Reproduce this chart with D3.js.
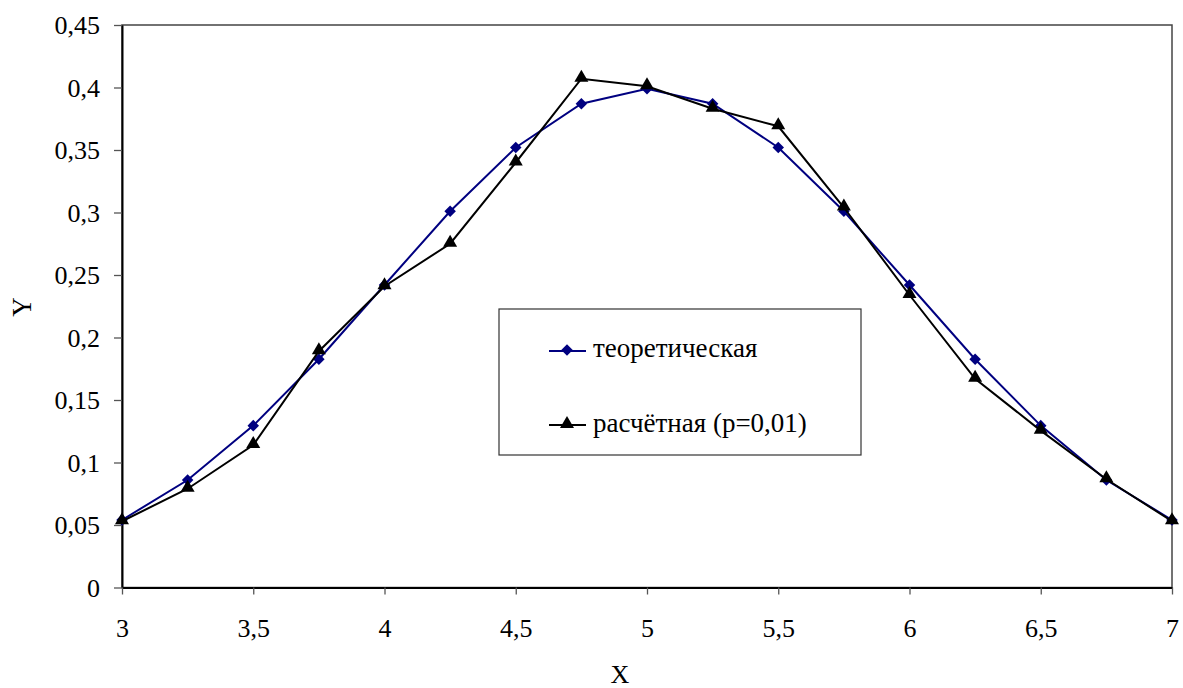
<!DOCTYPE html>
<html>
<head>
<meta charset="utf-8">
<script src="https://cdn.jsdelivr.net/npm/d3@7"></script>
<style>
  body { margin: 0; background: #fff; }
</style>
</head>
<body>
<div id="chart"></div>
<script>
// data
var xs = [3, 3.25, 3.5, 3.75, 4, 4.25, 4.5, 4.75, 5, 5.25, 5.5, 5.75, 6, 6.25, 6.5, 6.75, 7]
var theoretical = [0.054, 0.086, 0.1295, 0.1826, 0.242, 0.301, 0.352, 0.387, 0.399, 0.387, 0.352, 0.301, 0.242, 0.1826, 0.1295, 0.086, 0.054]
var computed = [0.053, 0.079, 0.114, 0.189, 0.241, 0.275, 0.340, 0.407, 0.401, 0.383, 0.369, 0.304, 0.234, 0.167, 0.1255, 0.0866, 0.053]
var seriesNames = ["теоретическая", "расчётная (p=0,01)"]
var xTicks = [3, 3.5, 4, 4.5, 5, 5.5, 6, 6.5, 7]
var yTicks = [0, 0.05, 0.1, 0.15, 0.2, 0.25, 0.3, 0.35, 0.4, 0.45]

var FONT = "'Liberation Serif', 'Times New Roman', serif"

function fmt(v) { return String(+v.toFixed(2)).replace(".", ",") }

var width = 1183, height = 688
var margins = {top: 25, right: 11, bottom: 100.5, left: 122}
var inner_width = width - margins.left - margins.right
var inner_height = height - margins.top - margins.bottom

var svg = d3.select("#chart").append("svg")
            .attr("width", width)
            .attr("height", height)

var g = svg.append("g")
           .attr("transform", "translate(" + margins.left + "," + margins.top + ")")

var scalex = d3.scaleLinear().domain([3, 7]).range([0, inner_width])
var scaley = d3.scaleLinear().domain([0, 0.45]).range([inner_height, 0])

// plot frame (top/right thin)
g.append("rect")
  .attr("x", 0).attr("y", 0)
  .attr("width", inner_width).attr("height", inner_height)
  .attr("fill", "none").attr("stroke", "#444").attr("stroke-width", 1.5)

// axes
var yAxis = g.append("g")
  .call(d3.axisLeft(scaley).tickValues(yTicks).tickFormat(fmt).tickSizeInner(8).tickSizeOuter(0).tickPadding(14))
var xAxis = g.append("g")
  .attr("transform", "translate(0," + inner_height + ")")
  .call(d3.axisBottom(scalex).tickValues(xTicks).tickFormat(fmt).tickSizeInner(7).tickSizeOuter(0).tickPadding(24))

;[yAxis, xAxis].forEach(function (a) {
  a.select(".domain").attr("stroke", "#000").attr("stroke-width", 2)
  a.selectAll(".tick line").attr("stroke", "#555").attr("stroke-width", 1.3)
  a.selectAll(".tick text")
    .style("font-family", FONT).style("font-size", "26px").attr("fill", "#000")
})
yAxis.selectAll(".tick text").attr("dy", "0.33em")

// axis titles
svg.append("text")
  .attr("x", 620).attr("y", 683)
  .attr("text-anchor", "middle")
  .style("font-family", FONT).style("font-size", "26px")
  .text("X")
svg.append("text")
  .attr("transform", "translate(31,307) rotate(-90)")
  .attr("text-anchor", "middle")
  .style("font-family", FONT).style("font-size", "27px")
  .text("Y")

var linegenerator = d3.line()
  .x(function (d) { return scalex(d.x) })
  .y(function (d) { return scaley(d.y) })

var blueData = xs.map(function (x, i) { return {x: x, y: theoretical[i]} })
var blackData = xs.map(function (x, i) { return {x: x, y: computed[i]} })

var diamond = d3.symbol().type(d3.symbolDiamond2).size(85)
var triangle = d3.symbol().type(d3.symbolTriangle).size(85)

g.append("path")
  .attr("d", linegenerator(blueData))
  .attr("stroke", "#000080").attr("stroke-width", 2).attr("fill", "none")
g.selectAll(".blue-pt").data(blueData)
  .enter().append("path")
  .attr("class", "blue-pt")
  .attr("d", diamond)
  .attr("fill", "#000080")
  .attr("transform", function (d) { return "translate(" + scalex(d.x) + "," + scaley(d.y) + ")" })

g.append("path")
  .attr("d", linegenerator(blackData))
  .attr("stroke", "#000").attr("stroke-width", 2).attr("fill", "none")
g.selectAll(".black-pt").data(blackData)
  .enter().append("path")
  .attr("class", "black-pt")
  .attr("d", triangle)
  .attr("fill", "#000")
  .attr("transform", function (d) { return "translate(" + scalex(d.x) + "," + (scaley(d.y) - 1) + ")" })

// legend
var legend = svg.append("g")
legend.append("rect")
  .attr("x", 499).attr("y", 309).attr("width", 362).attr("height", 146)
  .attr("fill", "#fff").attr("stroke", "#333").attr("stroke-width", 1.2)

var legendItems = [
  {name: seriesNames[0], color: "#000080", sym: diamond, y: 351, base: 357},
  {name: seriesNames[1], color: "#000", sym: triangle, y: 425, base: 432}
]
legendItems.forEach(function (d) {
  legend.append("line")
    .attr("x1", 549).attr("x2", 586).attr("y1", d.y).attr("y2", d.y)
    .attr("stroke", d.color).attr("stroke-width", 2)
  legend.append("path")
    .attr("d", d.sym)
    .attr("fill", d.color)
    .attr("transform", "translate(567," + (d.y - 1) + ")")
  legend.append("text")
    .attr("x", 593).attr("y", d.base)
    .style("font-family", FONT).style("font-size", "27px")
    .text(d.name)
})
</script>
</body>
</html>
